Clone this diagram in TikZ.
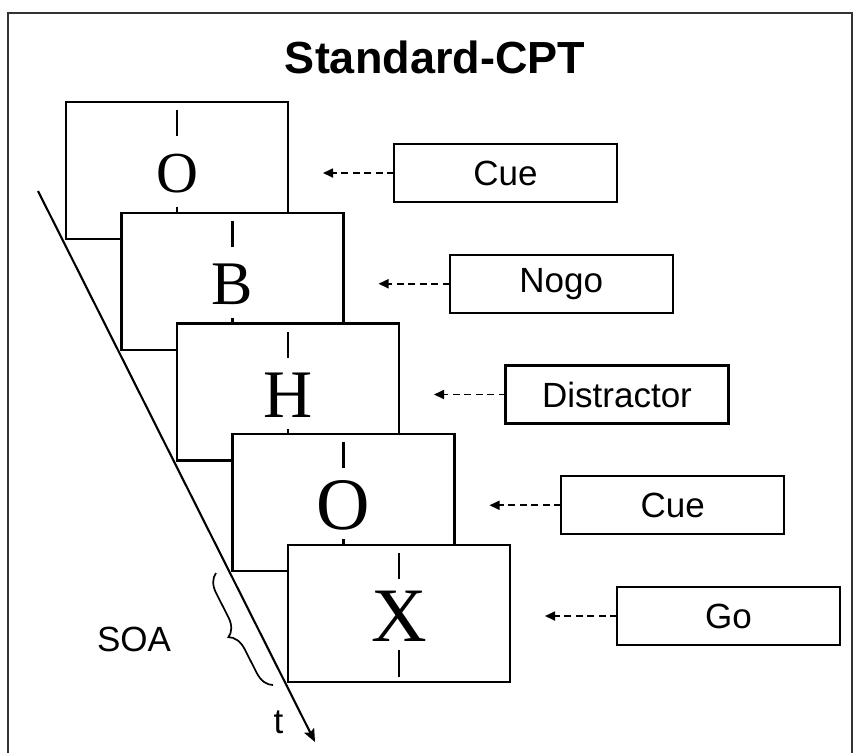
\documentclass[tikz,border=0pt]{standalone}
\usepackage{fontspec}
\setmainfont{Liberation Serif}
\newfontfamily\arial{Liberation Sans}
\usetikzlibrary{arrows.meta,decorations.pathreplacing}
\begin{document}
\begin{tikzpicture}[x=1pt,y=-1pt,
  screen/.style={draw,fill=white,line width=2.1pt,minimum width=222pt,
    minimum height=137pt,inner sep=0pt,outer sep=0pt},
  tick/.style={line width=2.1pt},
  letter/.style={inner sep=0pt},
  lab/.style={draw,fill=white,line width=2.1pt,minimum width=223pt,
    minimum height=58pt,inner sep=0pt,outer sep=0pt,
    font=\arial\fontsize{35}{35}\selectfont},
  cuearrow/.style={line width=1.7pt,dash pattern=on 7pt off 4.5pt,
    -{Triangle[length=10pt,width=9pt]}},
  plain/.style={font=\arial\fontsize{35}{35}\selectfont,inner sep=0pt}
]
\useasboundingbox (0,0) rectangle (858,753);

% outer frame
\draw[line width=1.3pt,draw=black!80] (8,753) -- (8,13) -- (852,13) -- (852,753);

% title
\node[font=\arial\bfseries\fontsize{45}{45}\selectfont,inner sep=0pt]
  (title) at (435,57) {Standard-CPT};

% stacked stimulus screens, each one drawn over the previous one
\foreach \i/\L/\fs in {0/O/58,1/B/62,2/H/68,3/O/74,4/X/77}{
  \node[screen] (s\i) at (177+55.5*\i,170.5+110.75*\i) {};
  \draw[tick] (s\i.north) ++(0,8) -- ++(0,26);
  \draw[tick] (s\i.south) ++(0,-5) -- ++(0,-27);
  \node[letter,font=\fontsize{\fs}{\fs}\selectfont] (c\i)
    at (177+55.5*\i,173.5+110.75*\i) {\L};
}

% stimulus type labels with dashed pointers
\foreach \i/\t in {0/Cue,1/Nogo,2/Distractor,3/Cue,4/Go}{
  \node[lab] (l\i) at (505.5+55.75*\i,173+110.75*\i) {\t};
  \coordinate (a\i) at (323+55.5*\i,173+110.75*\i);
  \draw[cuearrow] (l\i.west) -- (a\i);
}

% time axis
\coordinate (t0) at (38,191);
\coordinate (t1) at (315,742);
\draw[line width=2.1pt,-{Stealth[length=13pt,width=11pt,inset=2.5pt]}] (t0) -- (t1);
\node[plain] (tlab) at (278.5,722) {t};

% SOA brace
\coordinate (b0) at (273,685);
\coordinate (b1) at (216,573);
\draw[line width=1.7pt,decorate,decoration={brace,amplitude=18pt}] (b0) -- (b1);
\node[plain] (soa) at (134,639) {SOA};
\end{tikzpicture}
\end{document}
